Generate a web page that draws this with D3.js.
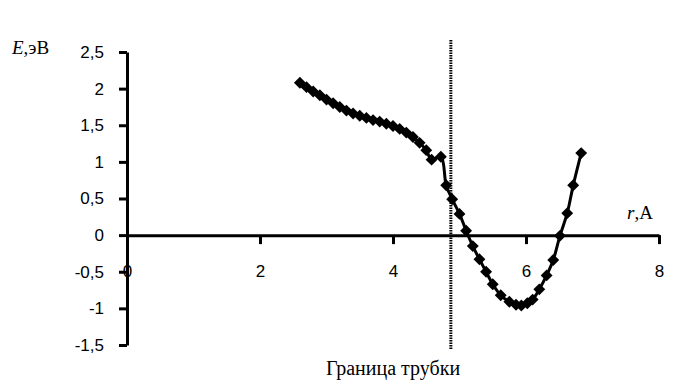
<!DOCTYPE html>
<html>
<head>
<meta charset="utf-8">
<script src="https://cdn.jsdelivr.net/npm/d3@7"></script>
<style>
  html, body { margin: 0; padding: 0; background: #fff; }
  svg { display: block; }
</style>
</head>
<body>
<svg id="chart" width="689" height="383"></svg>
<script>
// Distance r (Å) and energy E (eV) along the curve
const rValues = [2.60, 2.70, 2.80, 2.90, 3.00, 3.10, 3.20, 3.30, 3.40, 3.50,
                 3.60, 3.70, 3.80, 3.90, 4.00, 4.10, 4.20, 4.30, 4.40, 4.50,
                 4.58, 4.72, 4.80, 4.89, 5.00, 5.10, 5.20, 5.30, 5.40, 5.50,
                 5.62, 5.75, 5.85, 5.93, 6.02, 6.10, 6.20, 6.31, 6.41, 6.51,
                 6.62, 6.71, 6.83];
const eValues = [2.08, 2.02, 1.96, 1.91, 1.85, 1.80, 1.75, 1.70, 1.66, 1.63,
                 1.60, 1.57, 1.55, 1.52, 1.49, 1.45, 1.40, 1.34, 1.26, 1.16,
                 1.03, 1.07, 0.68, 0.49, 0.29, 0.06, -0.15, -0.33, -0.50, -0.67,
                 -0.82, -0.91, -0.95, -0.96, -0.93, -0.88, -0.74, -0.55, -0.34, -0.01,
                 0.30, 0.68, 1.12];
const xTicks = [0, 2, 4, 6, 8];
const yTicks = [2.5, 2, 1.5, 1, 0.5, 0, -0.5, -1, -1.5];
const boundaryR = 4.87;

const svg = d3.select("#chart");
const x = d3.scaleLinear().domain([0, 8]).range([127, 659]);
const y = d3.scaleLinear().domain([-1.5, 2.5]).range([345, 52]);
const fmt = v => String(v).replace(".", ",");

// Y axis (ticks point outward, to the left)
const yAxis = d3.axisLeft(y).tickValues(yTicks).tickSize(8).tickSizeOuter(0).tickFormat(fmt).tickPadding(15);
const gy = svg.append("g").attr("transform", `translate(${x(0)},0)`).call(yAxis);
gy.select(".domain").attr("stroke", "#000").attr("stroke-width", 3);
gy.selectAll(".tick line").attr("stroke", "#000").attr("stroke-width", 3);
gy.selectAll(".tick text").attr("font-family", "Liberation Sans, Arial, sans-serif")
  .attr("font-size", 17).attr("fill", "#000");

// X axis drawn through E = 0
const xAxis = d3.axisBottom(x).tickValues(xTicks).tickSize(9).tickSizeOuter(0).tickFormat(fmt);
const gx = svg.append("g").attr("transform", `translate(0,${y(0)})`).call(xAxis);
gx.select(".domain").attr("stroke", "#000").attr("stroke-width", 3);
gx.selectAll(".tick line").attr("stroke", "#000").attr("stroke-width", 3)
  .attr("display", d => d === 0 ? "none" : null);
gx.selectAll(".tick text").attr("font-family", "Liberation Sans, Arial, sans-serif")
  .attr("font-size", 17).attr("fill", "#000").attr("dy", "0.35em").attr("y", 36);

// Tube boundary marker
svg.append("line")
  .attr("x1", x(boundaryR)).attr("x2", x(boundaryR))
  .attr("y1", 40).attr("y2", 350)
  .attr("stroke", "#000").attr("stroke-width", 3)
  .attr("stroke-dasharray", "1.5,1");

svg.append("text")
  .attr("x", 393).attr("y", 375)
  .attr("text-anchor", "middle")
  .attr("font-family", "Liberation Serif, Times New Roman, serif")
  .attr("font-size", 20)
  .text("Граница трубки");

// Energy curve
const pts = rValues.map((r, i) => [r, eValues[i]]);
const line = d3.line().x(d => x(d[0])).y(d => y(d[1])).curve(d3.curveCatmullRom.alpha(0.5));
svg.append("path").datum(pts)
  .attr("d", line)
  .attr("fill", "none").attr("stroke", "#000").attr("stroke-width", 3);

const diamond = d3.symbol().type(d3.symbolDiamond2).size(90);
svg.append("g").selectAll("path").data(pts).join("path")
  .attr("transform", d => `translate(${x(d[0])},${y(d[1])})`)
  .attr("d", diamond)
  .attr("fill", "#000");

// Axis titles
const eLabel = svg.append("text").attr("x", 12).attr("y", 54)
  .attr("font-family", "Liberation Serif, Times New Roman, serif").attr("font-size", 19);
eLabel.append("tspan").attr("font-style", "italic").text("E");
eLabel.append("tspan").text(",эВ");

const rLabel = svg.append("text").attr("x", 627).attr("y", 219)
  .attr("font-family", "Liberation Serif, Times New Roman, serif").attr("font-size", 19);
rLabel.append("tspan").attr("font-style", "italic").text("r");
rLabel.append("tspan").text(",A");
</script>
</body>
</html>
